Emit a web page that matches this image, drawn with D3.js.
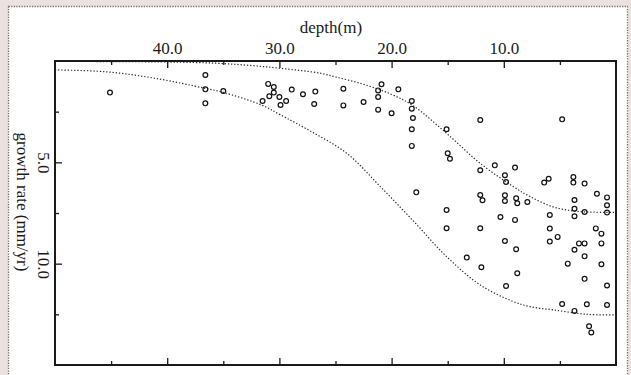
<!DOCTYPE html>
<html>
<head>
<meta charset="utf-8">
<script src="https://cdn.jsdelivr.net/npm/d3@7"></script>
<style>
  html, body { margin: 0; padding: 0; background: #ebe1df; }
  svg { display: block; }
  .axis text { font-family: "Liberation Serif", "Times New Roman", serif; font-size: 17px; fill: #1a1a1a; }
  .axis line { stroke: #1a1a1a; stroke-width: 1.3; }
  .axis path.domain { display: none; }
</style>
</head>
<body>
<script>
// Observed growth rate against water depth
const depth = [45.1, 36.6, 36.6, 36.6, 35.0, 31.0, 30.5, 30.5, 30.9, 31.5, 30.0, 29.9, 29.4, 28.9,
  27.9, 26.8, 26.9, 24.3, 24.3, 22.5, 20.9, 21.2, 21.2, 21.2, 19.4, 20.0, 18.2, 18.2, 18.1, 18.2,
  18.2, 17.8, 15.1, 15.0, 14.8, 12.1, 12.1, 10.8, 9.0, 9.9, 9.8, 12.1, 11.9, 9.9, 9.9, 8.9, 8.8,
  7.9, 4.8, 6.4, 6.0, 3.8, 3.8, 2.8, 1.7, 0.8, 3.7, 0.8, 3.7, 3.7, 2.8, 0.8, 5.9, 5.9, 5.2, 5.9,
  1.8, 1.3, 1.3, 3.3, 2.8, 3.7, 2.8, 4.3, 1.3, 2.8, 0.8, 4.8, 2.6, 0.8, 3.7, 2.4, 2.2, 15.1, 15.1,
  12.1, 10.3, 9.0, 9.9, 8.9, 13.3, 12.0, 8.8, 9.8];
const rate = [1.56, 0.69, 1.40, 2.09, 1.48, 1.13, 1.28, 1.56, 1.74, 1.97, 1.78, 2.17, 1.97, 1.41,
  1.64, 1.51, 2.12, 1.37, 2.19, 2.02, 1.15, 1.45, 1.78, 2.40, 1.40, 2.58, 1.97, 2.35, 2.81, 3.37,
  4.19, 6.48, 3.37, 4.55, 4.82, 2.91, 5.39, 5.15, 5.26, 5.64, 5.97, 6.61, 6.87, 6.63, 6.91, 6.77, 7.02,
  6.96, 2.88, 6.00, 5.81, 5.72, 6.00, 6.05, 6.55, 6.73, 6.86, 7.12, 7.29, 7.66, 7.45, 7.48, 7.60, 8.27, 8.68, 8.91,
  8.26, 8.52, 9.00, 9.00, 9.00, 9.31, 9.64, 10.00, 10.03, 10.75, 11.08, 11.99, 12.00, 12.04, 12.33, 13.09, 13.40, 7.35, 8.25,
  8.25, 7.70, 7.84, 8.88, 9.29, 9.70, 10.18, 10.47, 11.10];

// Envelope curves (upper and lower bounds)
const upperDepth = [50, 40, 35.6, 32.6, 29.9, 26.4, 24.9, 22.5, 20.0, 18.1, 15.1, 12.1, 9.15, 7.66, 5.6, 3.8, 2.0, 0];
const upperRate  = [0.02, 0.05, 0.11, 0.22, 0.36, 0.6, 0.8, 1.15, 1.65, 2.2, 3.57, 5.05, 6.2, 6.69, 7.2, 7.4, 7.46, 7.47];
const lowerDepth = [50, 45.5, 41.1, 36.6, 35.0, 31.6, 29.9, 27.0, 24.0, 21.0, 18.1, 15.1, 12.1, 9.15, 7.66, 5.6, 2.6, 0];
const lowerRate  = [0.44, 0.53, 0.85, 1.35, 1.55, 2.17, 2.66, 3.53, 4.55, 6.2, 7.87, 9.65, 11.05, 11.87, 12.12, 12.28, 12.5, 12.53];

// Axis ticks
const xMajorTicks = [40, 30, 20, 10];
const xMinorTicks = [45, 35, 25, 15, 5];
const yMajorTicks = [5, 10];
const yMinorTicks = [2.5, 7.5, 12.5];

const W = 631, H = 375;
const plot = { left: 55, right: 616, top: 61, bottom: 365 };

const svg = d3.select("body").append("svg").attr("width", W).attr("height", H);

// page panel with dotted edge
svg.append("rect").attr("width", W).attr("height", H).attr("fill", "#ebe1df");
svg.append("rect")
  .attr("x", 8.5).attr("y", 6.5).attr("width", 619).attr("height", 380)
  .attr("fill", "#ffffff").attr("stroke", "#7a7272").attr("stroke-width", 1.3)
  .attr("stroke-dasharray", "1.3,1.3");

const x = d3.scaleLinear().domain([50, 0]).range([plot.left, plot.right]);
const y = d3.scaleLinear().domain([0, 15]).range([plot.top, plot.bottom]);

// top axis with labels, ticks pointing inward
svg.append("g").attr("class", "axis").attr("transform", `translate(0,${plot.top})`)
  .call(d3.axisTop(x).tickValues(xMajorTicks).tickSizeInner(-7).tickSizeOuter(0).tickPadding(7)
    .tickFormat(d3.format(".1f")));
svg.append("g").attr("class", "axis").attr("transform", `translate(0,${plot.top})`)
  .call(d3.axisTop(x).tickValues(xMinorTicks).tickSizeInner(-4).tickSizeOuter(0).tickFormat(""));
// bottom axis: ticks only
svg.append("g").attr("class", "axis").attr("transform", `translate(0,${plot.bottom})`)
  .call(d3.axisBottom(x).tickValues(xMajorTicks).tickSizeInner(-7).tickSizeOuter(0).tickFormat(""));
svg.append("g").attr("class", "axis").attr("transform", `translate(0,${plot.bottom})`)
  .call(d3.axisBottom(x).tickValues(xMinorTicks).tickSizeInner(-4).tickSizeOuter(0).tickFormat(""));

// left axis, labels turned to read downward
const yAxisG = svg.append("g").attr("class", "axis").attr("transform", `translate(${plot.left},0)`)
  .call(d3.axisLeft(y).tickValues(yMajorTicks).tickSizeInner(-7).tickSizeOuter(0).tickFormat(d3.format(".1f")));
yAxisG.selectAll(".tick text")
  .attr("x", null).attr("dy", null)
  .attr("text-anchor", "middle")
  .attr("transform", "translate(-17,0) rotate(90)");
svg.append("g").attr("class", "axis").attr("transform", `translate(${plot.left},0)`)
  .call(d3.axisLeft(y).tickValues(yMinorTicks).tickSizeInner(-4).tickSizeOuter(0).tickFormat(""));

// axis titles
svg.append("text")
  .attr("x", 331).attr("y", 33)
  .attr("text-anchor", "middle")
  .style("font-family", "'Liberation Serif', 'Times New Roman', serif")
  .style("font-size", "17px").attr("fill", "#1a1a1a")
  .text("depth(m)");
svg.append("text")
  .attr("transform", "translate(17,202) rotate(90)")
  .attr("text-anchor", "middle")
  .style("font-family", "'Liberation Serif', 'Times New Roman', serif")
  .style("font-size", "17px").attr("fill", "#1a1a1a")
  .text("growth rate (mm/yr)");

// envelope curves
const line = d3.line()
  .x(d => x(d[0])).y(d => y(d[1]))
  .curve(d3.curveCatmullRom.alpha(0.5));
const curves = [
  d3.zip(upperDepth, upperRate),
  d3.zip(lowerDepth, lowerRate)
];
svg.append("g").selectAll("path").data(curves).join("path")
  .attr("d", line)
  .attr("fill", "none")
  .attr("stroke", "#2a2a2a")
  .attr("stroke-width", 1.2)
  .attr("stroke-dasharray", "1.3,1.9");

// observations
svg.append("g").selectAll("circle").data(d3.zip(depth, rate)).join("circle")
  .attr("cx", d => x(d[0])).attr("cy", d => y(d[1]))
  .attr("r", 2.4)
  .attr("fill", "none")
  .attr("stroke", "#111")
  .attr("stroke-width", 1.2);

// plot frame
svg.append("rect")
  .attr("x", plot.left).attr("y", plot.top)
  .attr("width", plot.right - plot.left).attr("height", plot.bottom - plot.top)
  .attr("fill", "none").attr("stroke", "#1a1a1a").attr("stroke-width", 2);
</script>
</body>
</html>
